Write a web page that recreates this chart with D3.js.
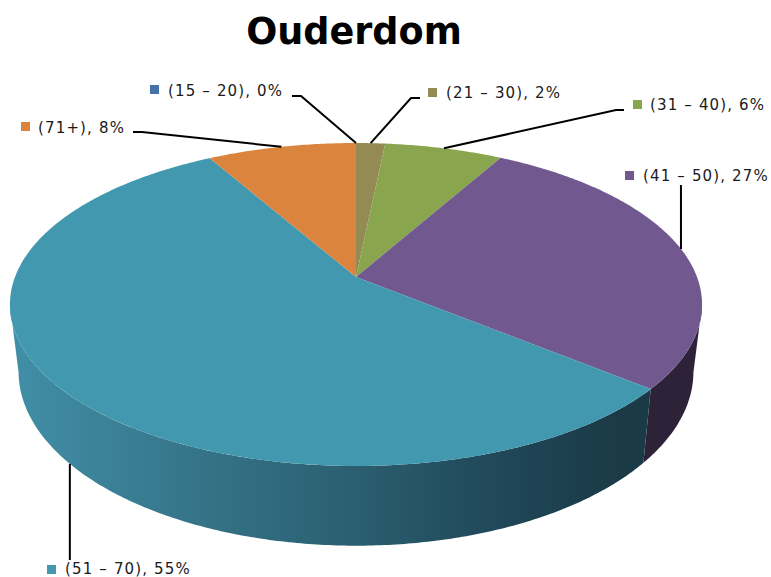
<!DOCTYPE html>
<html><head><meta charset="utf-8">
<script src="https://cdnjs.cloudflare.com/ajax/libs/d3/7.8.5/d3.min.js"></script>
<style>html,body{margin:0;padding:0;background:#fff}svg{display:block}</style>
</head><body><svg id="c" width="771" height="577"></svg>
<script>
// Data
const categories = ["(15 – 20)", "(21 – 30)", "(31 – 40)", "(41 – 50)", "(51 – 70)", "(71+)"];
const shares = [0, 1.6, 6.5, 27.9, 55.8, 8.2];
const shownPercent = [0, 2, 6, 27, 55, 8];            // as printed on labels
const colors = ["#4572A7", "#948A54", "#89A54E", "#71588F", "#4198AF", "#DB843D"];
const title = "Ouderdom";

// Layout
const W = 771, H = 577;
const labelLayout = [
  {sx:150, sy:85,  tx:168, ty:96,  elbow:[[292,96],[301,96]]},
  {sx:428, sy:88,  tx:446, ty:98,  elbow:[[420,98],[411,98]]},
  {sx:633, sy:100, tx:650, ty:110, elbow:[[624,110],[616,110]]},
  {sx:625, sy:171, tx:643, ty:181, vertical:185},
  {sx:47,  sy:565, tx:65,  ty:574, vertical:560, rim:"bottom"},
  {sx:21,  sy:122, tx:38,  ty:133, elbow:[[133,132],[142,132]]}
];
const P = 0.1703;
const xUnit = d3.scaleLinear().domain([0,1]).range([356,356+341]);
const yTop  = d3.scaleLinear().domain([0,1]).range([277,277+156.8]);
const xBot  = d3.scaleLinear().domain([0,1]).range([356,356+332.5]);
const yBot  = d3.scaleLinear().domain([0,1]).range([342,342+169]);

function project(theta, rim){
  const u = Math.sin(theta), v = -Math.cos(theta), w = 1 - P*v;
  return rim === "bottom" ? [xBot(u/w), yBot(v/w)] : [xUnit(u/w), yTop(v/w)];
}
function samples(a0,a1,rim){
  const n = Math.max(2, Math.ceil(Math.abs(a1-a0)/0.01));
  return d3.range(n+1).map(i => project(a0+(a1-a0)*i/n, rim));
}

const svg = d3.select("#c");
const line = d3.line();
const arcs = d3.pie().sort(null).value(d=>d)(shares);

// wall gradient
const grad = svg.append("defs").append("linearGradient")
  .attr("id","wallTeal").attr("gradientUnits","userSpaceOnUse")
  .attr("x1",10).attr("x2",650).attr("y1",0).attr("y2",0);
[[0,"#418FA7"],[0.25,"#37788D"],[0.5,"#2C6274"],[0.75,"#20495A"],[0.95,"#1A3A46"],[1,"#1A3A46"]]
  .forEach(s=>grad.append("stop").attr("offset",s[0]).attr("stop-color",s[1]));
const wallFill = {3:"#2D2238",4:"url(#wallTeal)"};

// side walls
const frontStart = 100*Math.PI/180, frontEnd = 260*Math.PI/180;
arcs.forEach((a,i)=>{
  const s = Math.max(a.startAngle,frontStart), e = Math.min(a.endAngle,frontEnd);
  if(e<=s) return;
  const pts = samples(s,e,"top").concat(samples(e,s,"bottom"));
  svg.append("path").attr("d",line(pts)+"Z").attr("fill",wallFill[i]||colors[i]);
});

// top slices
arcs.forEach((a,i)=>{
  if(a.endAngle<=a.startAngle) return;
  const pts = [[xUnit(0),yTop(0)]].concat(samples(a.startAngle,a.endAngle,"top"));
  svg.append("path").attr("d",line(pts)+"Z").attr("fill",colors[i]);
});

// title
svg.append("text").attr("x",354).attr("y",44).attr("text-anchor","middle")
  .attr("font-family","'DejaVu Sans',Verdana,sans-serif").attr("font-weight","bold")
  .attr("font-size",36.6).attr("fill","#000").text(title);

// labels and leaders
arcs.forEach((a,i)=>{
  const L = labelLayout[i], mid = (a.startAngle+a.endAngle)/2;
  const anchor = project(mid,L.rim||"top");
  const pts = L.vertical!==undefined ? [[anchor[0],L.vertical],anchor] : L.elbow.concat([anchor]);
  svg.append("path").attr("d",line(pts)).attr("fill","none")
    .attr("stroke","#000").attr("stroke-width",2);
  svg.append("rect").attr("x",L.sx).attr("y",L.sy).attr("width",9).attr("height",9).attr("fill",colors[i]);
  svg.append("text").attr("x",L.tx).attr("y",L.ty)
    .attr("font-family","'DejaVu Sans',Verdana,sans-serif").attr("font-size",15)
    .attr("letter-spacing",1.15).attr("fill","#1a1a1a")
    .text(`${categories[i]}, ${shownPercent[i]}%`);
});
</script></body></html>
